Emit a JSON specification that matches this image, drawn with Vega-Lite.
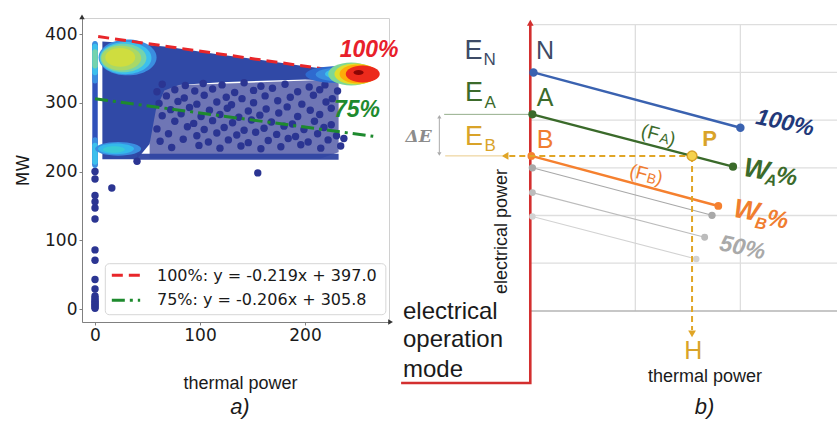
{
  "$schema": "https://vega.github.io/schema/vega-lite/v6.json",
  "background": "white",
  "padding": {"left": 14, "top": 13, "right": 0, "bottom": 0},
  "autosize": {"type": "pad"},
  "config": {"font": "Liberation Sans"},
  "datasets": {
    "band": [{"x":7,"y":389,"y2":218},{"x":40,"y":386,"y2":218},{"x":52,"y":384,"y2":240},{"x":58,"y":383,"y2":290},{"x":66,"y":382,"y2":318},{"x":80,"y":379,"y2":326},{"x":120,"y":370,"y2":330},{"x":160,"y":362,"y2":332},{"x":200,"y":353,"y2":334},{"x":240,"y":345,"y2":331},{"x":262,"y":340,"y2":334}],
    "sparseBg": [{"x":52,"y":300,"y2":219},{"x":70,"y":325,"y2":219},{"x":215,"y":333,"y2":219},{"x":232,"y":331,"y2":228}],
    "bottomStrip": [{"x":40,"y":226,"y2":217},{"x":232,"y":226,"y2":217}],
    "dots": [
      {"x":64,"y":327},{"x":86,"y":325},{"x":103,"y":328},{"x":121,"y":326},{"x":142,"y":329},{"x":158,"y":324},{"x":181,"y":327},{"x":204,"y":323},{"x":219,"y":326},
      {"x":59,"y":316},{"x":76,"y":319},{"x":95,"y":317},{"x":112,"y":320},{"x":133,"y":315},{"x":151,"y":318},{"x":169,"y":321},{"x":193,"y":316},{"x":214,"y":319},{"x":231,"y":317},
      {"x":68,"y":310},{"x":85,"y":307},{"x":104,"y":311},{"x":125,"y":308},{"x":140,"y":306},{"x":162,"y":310},{"x":186,"y":308},{"x":208,"y":311},{"x":226,"y":306},
      {"x":61,"y":299},{"x":79,"y":302},{"x":97,"y":298},{"x":116,"y":301},{"x":130,"y":297},{"x":151,"y":300},{"x":174,"y":303},{"x":197,"y":298},{"x":220,"y":301},
      {"x":72,"y":290},{"x":90,"y":293},{"x":109,"y":289},{"x":126,"y":292},{"x":146,"y":288},{"x":163,"y":291},{"x":183,"y":294},{"x":205,"y":289},{"x":225,"y":292},
      {"x":64,"y":281},{"x":82,"y":284},{"x":101,"y":280},{"x":119,"y":283},{"x":137,"y":279},{"x":157,"y":282},{"x":175,"y":285},{"x":193,"y":280},{"x":214,"y":283},
      {"x":76,"y":273},{"x":94,"y":270},{"x":112,"y":274},{"x":131,"y":271},{"x":149,"y":275},{"x":168,"y":272},{"x":188,"y":269},{"x":209,"y":273},{"x":225,"y":268},
      {"x":59,"y":262},{"x":88,"y":265},{"x":104,"y":261},{"x":123,"y":264},{"x":142,"y":260},{"x":161,"y":263},{"x":180,"y":266},{"x":199,"y":261},{"x":218,"y":264},
      {"x":70,"y":255},{"x":97,"y":252},{"x":116,"y":256},{"x":135,"y":253},{"x":153,"y":257},{"x":173,"y":254},{"x":191,"y":251},{"x":212,"y":255},{"x":230,"y":252},
      {"x":62,"y":244},{"x":84,"y":247},{"x":108,"y":243},{"x":127,"y":246},{"x":146,"y":242},{"x":165,"y":245},{"x":184,"y":248},{"x":203,"y":243},{"x":222,"y":246},
      {"x":73,"y":235},{"x":99,"y":238},{"x":119,"y":234},{"x":139,"y":237},{"x":158,"y":233},{"x":177,"y":236},{"x":196,"y":239},{"x":215,"y":234},{"x":234,"y":237},
      {"x":237,"y":248},
      {"x":16,"y":176},{"x":155,"y":198},{"x":40,"y":215},
      {"x":0,"y":1},{"x":0,"y":3},{"x":0,"y":5},{"x":0,"y":7},{"x":0,"y":9},{"x":0,"y":11},{"x":0,"y":13},{"x":0,"y":16},{"x":0,"y":19},{"x":0,"y":29},{"x":0,"y":43},{"x":0,"y":71},{"x":0,"y":86},{"x":0,"y":131},{"x":0,"y":147},{"x":0,"y":156},{"x":0,"y":165},{"x":0,"y":189},{"x":0,"y":200}
    ],
    "strip": [{"x":-2.6,"x2":2.6,"y":207,"y2":388,"d":0.12},{"x":-2.6,"x2":2.6,"y":328,"y2":390,"d":0.3},{"x":-2.6,"x2":2.6,"y":340,"y2":386,"d":0.42},{"x":-2.6,"x2":2.6,"y":350,"y2":378,"d":0.52},{"x":-2.6,"x2":2.6,"y":205,"y2":250,"d":0.3},{"x":-2.6,"x2":2.6,"y":210,"y2":242,"d":0.42}],
    "blobY": [{"x":31,"y":366,"d":0.3},{"x":29,"y":365,"d":0.42},{"x":27,"y":365,"d":0.52},{"x":25,"y":365,"d":0.6},{"x":24,"y":366,"d":0.66}],
    "blobC": [{"x":22,"y":233,"d":0.3},{"x":20,"y":233,"d":0.4},{"x":18,"y":232,"d":0.46}],
    "tail": [{"x":229,"y":341,"d":0.2},{"x":234,"y":341,"d":0.3},{"x":239,"y":342,"d":0.42}],
    "head": [{"x":244,"y":342,"d":0.55},{"x":248,"y":342,"d":0.68},{"x":251,"y":342,"d":0.8},{"x":255,"y":342,"d":0.9},{"x":251,"y":344,"d":1}],
    "reg100": [{"x":3,"y":396.3},{"x":262,"y":339.6}],
    "reg75": [{"x":0,"y":305.8},{"x":265,"y":251.2}],
    "legBox": [{"x":9.8,"x2":277,"y":-8.3,"y2":65.9}],
    "leg100": [{"x":16,"y":49},{"x":43,"y":49}],
    "leg75": [{"x":16,"y":12.6},{"x":43,"y":12.6}],
    "legText": [{"t":"100%: y = -0.219x + 397.0","x":59,"y":48},{"t":"75%: y = -0.206x + 305.8","x":59,"y":13.8}],
    "lab100": [{"t":"100%","x":261,"y":376.7}],
    "lab75": [{"t":"75%","x":249.5,"y":289.5}],
    "labA": [{"t":"a)","x":138,"y":-142.5}],
    "arrUp": [{"x":-12.4,"y":425}],
    "arrRight": [{"x":281.5,"y":-18.9}],
    "gridH": [{"x":0,"x2":292,"y":50},{"x":0,"x2":292,"y":100},{"x":0,"x2":292,"y":150},{"x":0,"x2":292,"y":200},{"x":0,"x2":292,"y":250},{"x":0,"x2":292,"y":300}],
    "gridV": [{"x":100,"y":0,"y2":300},{"x":200,"y":0,"y2":300}],
    "baseLine": [{"x":0,"x2":292,"y":0}],
    "redAxis": [{"i":0,"x":-123,"y":-75.5},{"i":1,"x":0,"y":-75.5},{"i":2,"x":0,"y":300}],
    "redArrow": [{"x":0,"y":302}],
    "grayLines": [{"s":"G1","x":2,"y":150},{"s":"G1","x":173,"y":100.2},{"s":"G2","x":2,"y":124},{"s":"G2","x":166,"y":77.2},{"s":"G3","x":2,"y":99},{"s":"G3","x":158,"y":54.4}],
    "modeLines": [{"s":"L100","x":3,"y":250},{"s":"L100","x":200,"y":192},{"s":"LA","x":2,"y":206},{"s":"LA","x":193,"y":151.2},{"s":"LB","x":1,"y":162.5},{"s":"LB","x":179,"y":110}],
    "endDots": [{"s":"L100","x":3,"y":250},{"s":"L100","x":200,"y":192},{"s":"LA","x":2,"y":206},{"s":"LA","x":193,"y":151.2},{"s":"LB","x":1,"y":162.5},{"s":"LB","x":179,"y":110},{"s":"G1","x":2,"y":150},{"s":"G1","x":173,"y":100.2},{"s":"G2","x":2,"y":124},{"s":"G2","x":166,"y":77.2},{"s":"G3","x":2,"y":99},{"s":"G3","x":158,"y":54.4}],
    "levelLines": [{"s":"A","x":-82,"x2":0,"y":206},{"s":"P","x":-81,"x2":-27,"y":162.5}],
    "dEBar": [{"x":-86.6,"y":166,"y2":202}],
    "dEHeads": [{"x":-86.6,"y":203.5,"dir":"up"},{"x":-86.6,"y":164.5,"dir":"down"}],
    "goldDash": [{"k":"h","x":-20,"y":162.5},{"k":"h","x":154,"y":162.5},{"k":"v","x":154,"y":162.5},{"k":"v","x":154,"y":-20}],
    "goldHeads": [{"x":-24,"y":162.5,"dir":"left"},{"x":154,"y":-24,"dir":"down"}],
    "pointP": [{"x":154,"y":162.5}],
    "tE": [{"t":"E","x":-54,"y":263.7,"s":"N"},{"t":"E","x":-53.6,"y":220,"s":"A"},{"t":"E","x":-53.6,"y":173.9,"s":"P"}],
    "tEsub": [{"t":"N","x":-38.8,"y":257.4,"s":"N"},{"t":"A","x":-38.3,"y":212.7,"s":"A"},{"t":"B","x":-38.3,"y":167.6,"s":"P"}],
    "tPts": [{"t":"N","x":14,"y":263.7,"s":"N"},{"t":"A","x":14,"y":214.8,"s":"A"},{"t":"B","x":14,"y":170.8,"s":"B"},{"t":"H","x":155.2,"y":-50.4,"s":"P"}],
    "tP": [{"t":"P","x":170.6,"y":172.9,"s":"P"}],
    "tF": [{"t":"(F","x":114.2,"y":186.8,"s":"A"},{"t":")","x":134.9,"y":179.9,"s":"A"},{"t":"(F","x":103.2,"y":144.9,"s":"B"},{"t":")","x":122.8,"y":139.3,"s":"B"}],
    "tFsub": [{"t":"A","x":127.6,"y":179.9,"s":"A"},{"t":"B","x":115.2,"y":138,"s":"B"}],
    "tPct": [{"t":"100%","x":242.5,"y":197,"s":"N100"},{"t":"50%","x":202,"y":66,"s":"S50"}],
    "tW": [{"t":"W","x":215.3,"y":147.7,"s":"A"},{"t":"W","x":205.8,"y":104.7,"s":"B"}],
    "tWsub": [{"t":"A","x":229,"y":136.8,"s":"A"},{"t":"B","x":219.5,"y":91.2,"s":"B"}],
    "tWpct": [{"t":"%","x":244,"y":140.4,"s":"A"},{"t":"%","x":235.4,"y":95.3,"s":"B"}],
    "tMode": [{"t":"electrical","x":-121.2,"y":-8.1,"s":"lbl"},{"t":"operation","x":-121.2,"y":-38.3,"s":"lbl"},{"t":"mode","x":-121.2,"y":-69.2,"s":"lbl"}],
    "tEP": [{"t":"electrical power","x":-26.9,"y":83.3,"s":"lbl"}],
    "tTP": [{"t":"thermal power","x":166.3,"y":-74.5,"s":"lbl"}],
    "tB": [{"t":"b)","x":165.8,"y":-100.7,"s":"lbl"}],
    "tDE": [{"t":"ΔE","x":-106.3,"y":182.3,"s":"dE"}]
  },
  "hconcat": [
    {
      "width": 307,
      "height": 304,
      "view": {"stroke": "#d0d0d0", "strokeWidth": 1},
      "encoding": {
        "x": {"field": "x", "type": "quantitative", "scale": {"domain": [-12.4, 280], "nice": false, "zero": false},
              "axis": {"values": [0, 100, 200], "title": "thermal power", "titleX": 158, "grid": false, "labelFlush": false, "domainColor": "#808080", "tickColor": "#808080", "tickSize": 3, "labelPadding": 2, "labelFont": "DejaVu Sans", "labelFontSize": 17, "labelColor": "#1a1a1a", "titleFont": "Liberation Sans", "titleFontSize": 18, "titleFontWeight": "normal", "titleColor": "#1a1a1a", "titlePadding": 31}},
        "y": {"field": "y", "type": "quantitative", "scale": {"domain": [-18.9, 423.3], "nice": false, "zero": false},
              "axis": {"values": [0, 100, 200, 300, 400], "title": "MW", "grid": false, "labelFlush": false, "domainColor": "#808080", "tickColor": "#808080", "tickSize": 3, "labelPadding": 2, "labelFont": "DejaVu Sans", "labelFontSize": 17, "labelColor": "#1a1a1a", "titleFont": "DejaVu Sans", "titleFontSize": 17, "titleFontWeight": "normal", "titleColor": "#1a1a1a", "titlePadding": 12}}
      },
      "layer": [
        {"data": {"name": "sparseBg"}, "mark": {"type": "area", "color": "#2b3592", "opacity": 0.68}, "encoding": {"y2": {"field": "y2"}}},
        {"data": {"name": "band"}, "mark": {"type": "area", "color": "#3049a6", "opacity": 1}, "encoding": {"y2": {"field": "y2"}}},
        {"data": {"name": "bottomStrip"}, "mark": {"type": "area", "color": "#2f45a2", "opacity": 0.95}, "encoding": {"y2": {"field": "y2"}}},
        {"data": {"name": "dots"}, "mark": {"type": "point", "filled": true, "size": 55, "color": "#2b3592", "opacity": 1, "strokeWidth": 0}},
        {"data": {"name": "strip"}, "mark": {"type": "rect", "cornerRadius": 2.5},
         "encoding": {"x2": {"field": "x2"}, "y2": {"field": "y2"}, "order": {"field": "d"},
                      "color": {"field": "d", "type": "quantitative", "legend": null, "scale": {"domain": [0, 0.15, 0.3, 0.42, 0.52, 0.6, 0.68, 0.78, 0.9, 1], "range": ["#2b3594", "#3158c4", "#3a8ee0", "#3cc0ec", "#74d3ad", "#a9d867", "#dede2e", "#ffc01c", "#ec2a1c", "#8a0505"]}}}},
        {"data": {"name": "blobY"}, "mark": {"type": "point", "filled": true, "opacity": 1, "strokeWidth": 0, "shape": "M-1,0A1,0.62 0 1,0 1,0A1,0.62 0 1,0 -1,0Z"},
         "encoding": {"order": {"field": "d"},
                      "color": {"field": "d", "type": "quantitative", "legend": null, "scale": {"domain": [0, 0.15, 0.3, 0.42, 0.52, 0.6, 0.68, 0.78, 0.9, 1], "range": ["#2b3594", "#3158c4", "#3a8ee0", "#3cc0ec", "#74d3ad", "#a9d867", "#dede2e", "#ffc01c", "#ec2a1c", "#8a0505"]}},
                      "size": {"field": "d", "type": "quantitative", "legend": null, "scale": {"domain": [0.3, 0.42, 0.52, 0.6, 0.66], "range": [3364, 2704, 2116, 1600, 900]}}}},
        {"data": {"name": "blobC"}, "mark": {"type": "point", "filled": true, "opacity": 1, "strokeWidth": 0, "shape": "M-1,0A1,0.3 0 1,0 1,0A1,0.3 0 1,0 -1,0Z"},
         "encoding": {"order": {"field": "d"},
                      "color": {"field": "d", "type": "quantitative", "legend": null, "scale": {"domain": [0, 0.15, 0.3, 0.42, 0.52, 0.6, 0.68, 0.78, 0.9, 1], "range": ["#2b3594", "#3158c4", "#3a8ee0", "#3cc0ec", "#74d3ad", "#a9d867", "#dede2e", "#ffc01c", "#ec2a1c", "#8a0505"]}},
                      "size": {"field": "d", "type": "quantitative", "legend": null, "scale": {"domain": [0.3, 0.4, 0.46], "range": [2116, 1296, 484]}}}},
        {"data": {"name": "reg100"}, "mark": {"type": "line", "color": "#e8262a", "strokeWidth": 3, "strokeDash": [11, 6]}},
        {"data": {"name": "reg75"}, "mark": {"type": "line", "color": "#1e8a2e", "strokeWidth": 3, "strokeDash": [13, 5, 3, 5]}},
        {"data": {"name": "tail"}, "mark": {"type": "point", "filled": true, "opacity": 1, "strokeWidth": 0, "shape": "M-1,0A1,0.28 0 1,0 1,0A1,0.28 0 1,0 -1,0Z"},
         "encoding": {"order": {"field": "d"},
                      "color": {"field": "d", "type": "quantitative", "legend": null, "scale": {"domain": [0, 0.15, 0.3, 0.42, 0.52, 0.6, 0.68, 0.78, 0.9, 1], "range": ["#2b3594", "#3158c4", "#3a8ee0", "#3cc0ec", "#74d3ad", "#a9d867", "#dede2e", "#ffc01c", "#ec2a1c", "#8a0505"]}},
                      "size": {"field": "d", "type": "quantitative", "legend": null, "scale": {"domain": [0.2, 0.3, 0.42], "range": [3600, 2500, 1764]}}}},
        {"data": {"name": "head"}, "mark": {"type": "point", "filled": true, "opacity": 1, "strokeWidth": 0, "shape": "M-1,0A1,0.5 0 1,0 1,0A1,0.5 0 1,0 -1,0Z"},
         "encoding": {"order": {"field": "d"},
                      "color": {"field": "d", "type": "quantitative", "legend": null, "scale": {"domain": [0, 0.15, 0.3, 0.42, 0.52, 0.6, 0.68, 0.78, 0.9, 1], "range": ["#2b3594", "#3158c4", "#3a8ee0", "#3cc0ec", "#74d3ad", "#a9d867", "#dede2e", "#ffc01c", "#ec2a1c", "#8a0505"]}},
                      "size": {"field": "d", "type": "quantitative", "legend": null, "scale": {"domain": [0.55, 0.68, 0.8, 0.9, 1], "range": [2116, 1764, 1444, 1156, 100]}}}},
        {"data": {"name": "legBox"}, "mark": {"type": "rect", "fill": "white", "fillOpacity": 0.85, "stroke": "#d6d6d6", "strokeWidth": 1, "cornerRadius": 4}, "encoding": {"x2": {"field": "x2"}, "y2": {"field": "y2"}}},
        {"data": {"name": "leg100"}, "mark": {"type": "line", "color": "#e8262a", "strokeWidth": 3, "strokeDash": [11, 6]}},
        {"data": {"name": "leg75"}, "mark": {"type": "line", "color": "#1e8a2e", "strokeWidth": 3, "strokeDash": [13, 5, 3, 5]}},
        {"data": {"name": "legText"}, "mark": {"type": "text", "font": "DejaVu Sans", "fontSize": 16, "align": "left", "baseline": "middle", "color": "#1a1a1a"}, "encoding": {"text": {"field": "t"}}},
        {"data": {"name": "lab100"}, "mark": {"type": "text", "font": "Liberation Sans", "fontSize": 23, "fontWeight": "bold", "fontStyle": "italic", "align": "center", "baseline": "middle", "color": "#e8202a"}, "encoding": {"text": {"field": "t"}}},
        {"data": {"name": "lab75"}, "mark": {"type": "text", "font": "Liberation Sans", "fontSize": 23, "fontWeight": "bold", "fontStyle": "italic", "align": "center", "baseline": "middle", "color": "#1e8a2e"}, "encoding": {"text": {"field": "t"}}},
        {"data": {"name": "labA"}, "mark": {"type": "text", "font": "Liberation Sans", "fontSize": 22, "fontStyle": "italic", "align": "center", "baseline": "middle", "color": "#1a1a1a"}, "encoding": {"text": {"field": "t"}}},
        {"data": {"name": "arrUp"}, "mark": {"type": "point", "shape": "triangle-up", "filled": true, "size": 30, "color": "#333333", "opacity": 1}},
        {"data": {"name": "arrRight"}, "mark": {"type": "point", "shape": "triangle-right", "filled": true, "size": 30, "color": "#333333", "opacity": 1}}
      ],
      "resolve": {"scale": {"size": "independent"}}
    },
    {
      "width": 438,
      "height": 406,
      "view": {"stroke": null},
      "encoding": {
        "x": {"field": "x", "type": "quantitative", "scale": {"domain": [-125, 292], "nice": false, "zero": false}, "axis": null},
        "y": {"field": "y", "type": "quantitative", "scale": {"domain": [-118.5, 307], "nice": false, "zero": false}, "axis": null},
        "color": {"field": "s", "type": "nominal", "legend": null, "scale": {"domain": ["N", "N100", "A", "P", "B", "S50", "lbl", "dE", "L100", "LA", "LB", "G1", "G2", "G3"], "range": ["#3e4b66", "#22397a", "#3c6b2b", "#d9a329", "#f07d2f", "#a9a9a9", "#1a1a1a", "#8c8c8c", "#3a62b0", "#3a6a2a", "#f5802f", "#a8a8a8", "#bcbcbc", "#d2d2d2"]}}
      },
      "layer": [
        {"data": {"name": "gridH"}, "mark": {"type": "rule", "strokeWidth": 1.3}, "encoding": {"x2": {"field": "x2"}, "color": {"value": "#dedede"}}},
        {"data": {"name": "gridV"}, "mark": {"type": "rule", "strokeWidth": 1.3}, "encoding": {"y2": {"field": "y2"}, "color": {"value": "#dedede"}}},
        {"data": {"name": "baseLine"}, "mark": {"type": "rule", "strokeWidth": 1.5}, "encoding": {"x2": {"field": "x2"}, "color": {"value": "#b5b5b5"}}},
        {"data": {"name": "redAxis"}, "mark": {"type": "line", "strokeWidth": 2.6}, "encoding": {"order": {"field": "i"}, "color": {"value": "#d32f2f"}}},
        {"data": {"name": "redArrow"}, "mark": {"type": "point", "shape": "triangle-up", "filled": true, "size": 45, "opacity": 1}, "encoding": {"color": {"value": "#d32f2f"}}},
        {"data": {"name": "grayLines"}, "mark": {"type": "line", "strokeWidth": 1.1}},
        {"data": {"name": "modeLines"}, "mark": {"type": "line", "strokeWidth": 2.5}},
        {"data": {"name": "endDots"}, "mark": {"type": "point", "filled": true, "opacity": 1, "strokeWidth": 0},
         "encoding": {"size": {"field": "s", "type": "nominal", "legend": null, "scale": {"domain": ["L100", "LA", "LB", "G1", "G2", "G3"], "range": [72, 42, 58, 26, 42, 32]}}}},
        {"data": {"name": "levelLines"}, "mark": {"type": "rule", "strokeWidth": 1, "opacity": 0.55}, "encoding": {"x2": {"field": "x2"}}},
        {"data": {"name": "dEBar"}, "mark": {"type": "rule", "strokeWidth": 1}, "encoding": {"y2": {"field": "y2"}, "color": {"value": "#aaaaaa"}}},
        {"data": {"name": "dEHeads"}, "mark": {"type": "point", "filled": true, "size": 18, "opacity": 1},
         "encoding": {"color": {"value": "#aaaaaa"}, "shape": {"field": "dir", "type": "nominal", "legend": null, "scale": {"domain": ["up", "down", "left"], "range": ["triangle-up", "triangle-down", "triangle-left"]}}}},
        {"data": {"name": "goldDash"}, "mark": {"type": "line", "strokeWidth": 2, "strokeDash": [6, 4]}, "encoding": {"detail": {"field": "k"}, "color": {"value": "#e0a526"}}},
        {"data": {"name": "goldHeads"}, "mark": {"type": "point", "filled": true, "size": 60, "opacity": 1},
         "encoding": {"color": {"value": "#e0a526"}, "shape": {"field": "dir", "type": "nominal", "legend": null, "scale": {"domain": ["up", "down", "left"], "range": ["triangle-up", "triangle-down", "triangle-left"]}}}},
        {"data": {"name": "pointP"}, "mark": {"type": "point", "filled": true, "size": 95, "opacity": 1, "fill": "#f5d24c", "stroke": "#d9a329", "strokeWidth": 1.5}, "encoding": {"color": {"value": "#f5d24c"}}},
        {"data": {"name": "tE"}, "mark": {"type": "text", "fontSize": 27, "align": "center", "baseline": "alphabetic"}, "encoding": {"text": {"field": "t"}}},
        {"data": {"name": "tEsub"}, "mark": {"type": "text", "fontSize": 17, "align": "center", "baseline": "alphabetic"}, "encoding": {"text": {"field": "t"}}},
        {"data": {"name": "tPts"}, "mark": {"type": "text", "fontSize": 25, "align": "center", "baseline": "alphabetic"}, "encoding": {"text": {"field": "t"}}},
        {"data": {"name": "tP"}, "mark": {"type": "text", "fontSize": 22, "fontWeight": "bold", "align": "center", "baseline": "alphabetic"}, "encoding": {"text": {"field": "t"}}},
        {"data": {"name": "tF"}, "mark": {"type": "text", "fontSize": 19, "angle": 15, "align": "center", "baseline": "middle"}, "encoding": {"text": {"field": "t"}}},
        {"data": {"name": "tFsub"}, "mark": {"type": "text", "fontSize": 14, "angle": 15, "align": "center", "baseline": "middle"}, "encoding": {"text": {"field": "t"}}},
        {"data": {"name": "tPct"}, "mark": {"type": "text", "fontSize": 23, "fontWeight": "bold", "fontStyle": "italic", "angle": 12, "align": "center", "baseline": "middle"}, "encoding": {"text": {"field": "t"}}},
        {"data": {"name": "tW"}, "mark": {"type": "text", "fontSize": 27, "fontWeight": "bold", "fontStyle": "italic", "angle": 10, "align": "center", "baseline": "middle"}, "encoding": {"text": {"field": "t"}}},
        {"data": {"name": "tWsub"}, "mark": {"type": "text", "fontSize": 16, "fontWeight": "bold", "fontStyle": "italic", "angle": 10, "align": "center", "baseline": "middle"}, "encoding": {"text": {"field": "t"}}},
        {"data": {"name": "tWpct"}, "mark": {"type": "text", "fontSize": 24, "fontWeight": "bold", "fontStyle": "italic", "angle": 10, "align": "center", "baseline": "middle"}, "encoding": {"text": {"field": "t"}}},
        {"data": {"name": "tMode"}, "mark": {"type": "text", "fontSize": 24, "align": "left", "baseline": "alphabetic"}, "encoding": {"text": {"field": "t"}}},
        {"data": {"name": "tEP"}, "mark": {"type": "text", "fontSize": 18, "angle": 270, "align": "center", "baseline": "middle"}, "encoding": {"text": {"field": "t"}}},
        {"data": {"name": "tTP"}, "mark": {"type": "text", "fontSize": 18, "align": "center", "baseline": "alphabetic"}, "encoding": {"text": {"field": "t"}}},
        {"data": {"name": "tB"}, "mark": {"type": "text", "fontSize": 22, "fontStyle": "italic", "align": "center", "baseline": "middle"}, "encoding": {"text": {"field": "t"}}},
        {"data": {"name": "tDE"}, "mark": {"type": "text", "font": "DejaVu Serif", "fontSize": 17, "fontWeight": "bold", "fontStyle": "italic", "align": "center", "baseline": "middle"}, "encoding": {"text": {"field": "t"}}}
      ]
    }
  ],
  "spacing": 10,
  "bounds": "flush"
}
